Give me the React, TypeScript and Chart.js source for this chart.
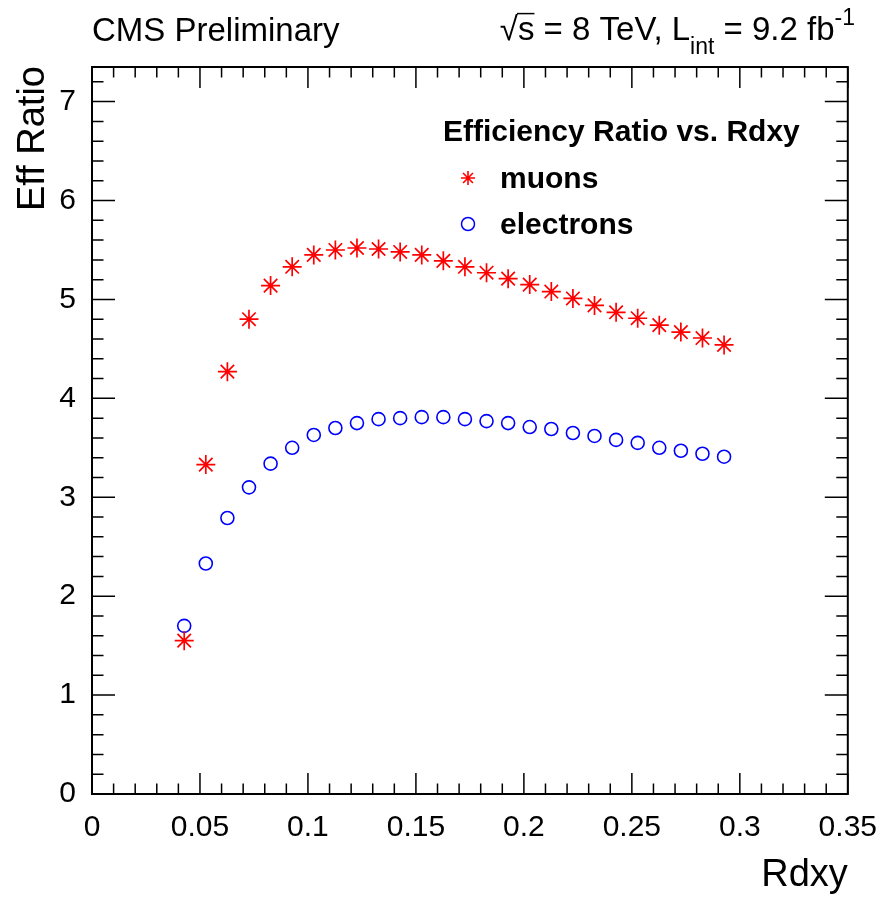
import React, { useEffect, useRef } from 'react';
import { Chart, registerables } from 'chart.js';

Chart.register(...registerables);

// ---- data ----
const rdxy = [
  0.0427, 0.0527, 0.0627, 0.0727, 0.0827, 0.0927, 0.1027, 0.1127, 0.1227,
  0.1327, 0.1427, 0.1527, 0.1627, 0.1727, 0.1827, 0.1927, 0.2027, 0.2127,
  0.2227, 0.2327, 0.2427, 0.2527, 0.2627, 0.2727, 0.2827, 0.2927,
];
const muons = [
  1.55, 3.33, 4.27, 4.80, 5.14, 5.33, 5.45, 5.50, 5.52, 5.51, 5.48, 5.45, 5.39,
  5.33, 5.27, 5.21, 5.15, 5.08, 5.01, 4.94, 4.87, 4.81, 4.74, 4.67, 4.61, 4.54,
];
const electrons = [
  1.70, 2.33, 2.79, 3.10, 3.34, 3.50, 3.63, 3.70, 3.75, 3.79, 3.80, 3.81, 3.81,
  3.79, 3.77, 3.75, 3.71, 3.69, 3.65, 3.62, 3.58, 3.55, 3.50, 3.47, 3.44, 3.41,
];
const xTickValues = [0, 0.05, 0.1, 0.15, 0.2, 0.25, 0.3, 0.35];
const xTickLabels = ['0', '0.05', '0.1', '0.15', '0.2', '0.25', '0.3', '0.35'];
const yTickValues = [0, 1, 2, 3, 4, 5, 6, 7];
const yTickLabels = ['0', '1', '2', '3', '4', '5', '6', '7'];
const xRange = [0, 0.35];
const yRange = [0, 7.35];

const seriesNames = ['muons', 'electrons'];
const legendTitle = 'Efficiency Ratio vs. Rdxy';
const xTitle = 'Rdxy';
const yTitle = 'Eff Ratio';
const leftLabel = 'CMS Preliminary';

const FONT = '"Liberation Sans", Arial, Helvetica, sans-serif';
const RED = '#ff0000';
const BLUE = '#0000ff';

function drawStar(ctx: CanvasRenderingContext2D, x: number, y: number, r: number) {
  ctx.beginPath();
  ctx.moveTo(x - r, y);
  ctx.lineTo(x + r, y);
  ctx.moveTo(x, y - r);
  ctx.lineTo(x, y + r);
  const d = r * Math.SQRT1_2;
  ctx.moveTo(x - d, y - d);
  ctx.lineTo(x + d, y + d);
  ctx.moveTo(x - d, y + d);
  ctx.lineTo(x + d, y - d);
  ctx.stroke();
}

const decorPlugin = {
  id: 'rootDecor',
  afterDraw(chart: any) {
    const ctx: CanvasRenderingContext2D = chart.ctx;
    const { left, right, top, bottom } = chart.chartArea;
    const xs = chart.scales.x;
    const ys = chart.scales.y;
    ctx.save();
    ctx.strokeStyle = '#000';
    // ticks
    ctx.lineWidth = 1.5;
    const xMaj = 21, xMin = 10.5, yMaj = 23, yMin = 11.5;
    ctx.beginPath();
    for (let i = 0; i < xTickValues.length; i++) {
      const v = xTickValues[i];
      const px = xs.getPixelForValue(v);
      ctx.moveTo(px, bottom); ctx.lineTo(px, bottom - xMaj);
      ctx.moveTo(px, top); ctx.lineTo(px, top + xMaj);
      if (i < xTickValues.length - 1) {
        const step = (xTickValues[i + 1] - v) / 5;
        for (let k = 1; k < 5; k++) {
          const mx = xs.getPixelForValue(v + k * step);
          ctx.moveTo(mx, bottom); ctx.lineTo(mx, bottom - xMin);
          ctx.moveTo(mx, top); ctx.lineTo(mx, top + xMin);
        }
      }
    }
    for (let i = 0; i < yTickValues.length; i++) {
      const v = yTickValues[i];
      const py = ys.getPixelForValue(v);
      ctx.moveTo(left, py); ctx.lineTo(left + yMaj, py);
      ctx.moveTo(right, py); ctx.lineTo(right - yMaj, py);
      const step = i < yTickValues.length - 1 ? (yTickValues[i + 1] - v) / 5 : (v - yTickValues[i - 1]) / 5;
      for (let k = 1; k < 5; k++) {
        const mv = v + k * step;
        if (mv > yRange[1]) break;
        const my = ys.getPixelForValue(mv);
        ctx.moveTo(left, my); ctx.lineTo(left + yMin, my);
        ctx.moveTo(right, my); ctx.lineTo(right - yMin, my);
      }
    }
    ctx.stroke();
    // frame
    ctx.lineWidth = 2;
    ctx.strokeRect(left, top, right - left, bottom - top);

    // texts
    ctx.fillStyle = '#000';
    ctx.textBaseline = 'alphabetic';
    ctx.textAlign = 'left';
    ctx.font = `33px ${FONT}`;
    ctx.fillText(leftLabel, left, 41);

    // right header: sqrt(s) = 8 TeV, L_int = 9.2 fb^-1
    const base = 40;
    const pieces = [
      { t: '\u221A', size: 33, dy: 0 },
      { t: 's = 8 TeV, L', size: 33, dy: 0 },
      { t: 'int', size: 23, dy: 14 },
      { t: ' = 9.2 fb', size: 33, dy: 0 },
      { t: '-1', size: 23, dy: -15 },
    ];
    let total = 0;
    const widths: number[] = [];
    for (const p of pieces) {
      ctx.font = `${p.size}px ${FONT}`;
      const w = ctx.measureText(p.t).width;
      widths.push(w);
      total += w;
    }
    let cx = 855 - total;
    pieces.forEach((p, i) => {
      ctx.font = `${p.size}px ${FONT}`;
      ctx.fillText(p.t, cx, base + p.dy);
      if (i === 1) {
        const sw = ctx.measureText('s').width;
        ctx.lineWidth = 1.5;
        ctx.beginPath();
        ctx.moveTo(cx - 1, base - p.size * 0.8);
        ctx.lineTo(cx + sw, base - p.size * 0.8);
        ctx.stroke();
      }
      cx += widths[i];
    });

    // axis titles
    ctx.font = `38px ${FONT}`;
    ctx.textAlign = 'right';
    ctx.fillText(xTitle, right, 886);
    ctx.save();
    ctx.translate(44, top - 1);
    ctx.rotate(-Math.PI / 2);
    ctx.textAlign = 'right';
    ctx.fillText(yTitle, 0, 0);
    ctx.restore();

    // legend
    ctx.textAlign = 'left';
    ctx.font = `bold 30px ${FONT}`;
    ctx.fillText(legendTitle, 443, 141);
    ctx.fillText(seriesNames[0], 500, 188);
    ctx.fillText(seriesNames[1], 500, 234);
    ctx.lineWidth = 1.6;
    ctx.strokeStyle = RED;
    drawStar(ctx, 468, 178, 7);
    ctx.lineWidth = 1.5;
    ctx.strokeStyle = BLUE;
    ctx.beginPath();
    ctx.arc(468, 224, 6.5, 0, Math.PI * 2);
    ctx.stroke();
    ctx.restore();
  },
};

export default function App() {
  const ref = useRef<HTMLCanvasElement | null>(null);
  useEffect(() => {
    if (!ref.current) return;
    const chart = new Chart(ref.current, {
      type: 'scatter',
      data: {
        datasets: [
          {
            label: seriesNames[0],
            data: rdxy.map((x, i) => ({ x, y: muons[i] })),
            pointStyle: 'star',
            pointRadius: 9.5,
            borderColor: RED,
            backgroundColor: RED,
            borderWidth: 1.7,
            showLine: false,
          },
          {
            label: seriesNames[1],
            data: rdxy.map((x, i) => ({ x, y: electrons[i] })),
            pointStyle: 'circle',
            pointRadius: 6.5,
            borderColor: BLUE,
            backgroundColor: 'rgba(0,0,0,0)',
            borderWidth: 1.6,
            showLine: false,
          },
        ],
      },
      options: {
        animation: false,
        responsive: false,
        maintainAspectRatio: false,
        events: [],
        layout: { padding: { left: 0, right: 35, top: 67, bottom: 0 } },
        plugins: { legend: { display: false }, tooltip: { enabled: false } },
        scales: {
          x: {
            type: 'linear',
            min: xRange[0],
            max: xRange[1],
            grid: { display: false },
            border: { display: false },
            afterBuildTicks: (s: any) => {
              s.ticks = xTickValues.map((v) => ({ value: v }));
            },
            afterFit: (s: any) => {
              s.height = 103;
            },
            ticks: {
              autoSkip: false,
              maxRotation: 0,
              minRotation: 0,
              padding: 8,
              color: '#000',
              font: { family: FONT, size: 30 },
              callback: (_v: any, i: number) => xTickLabels[i],
            },
          },
          y: {
            type: 'linear',
            min: yRange[0],
            max: yRange[1],
            grid: { display: false },
            border: { display: false },
            afterBuildTicks: (s: any) => {
              s.ticks = yTickValues.map((v) => ({ value: v }));
            },
            afterFit: (s: any) => {
              s.width = 92;
            },
            ticks: {
              autoSkip: false,
              padding: 8,
              color: '#000',
              font: { family: FONT, size: 30 },
              callback: (_v: any, i: number) => yTickLabels[i],
            },
          },
        },
      },
      plugins: [decorPlugin],
    } as any);
    return () => chart.destroy();
  }, []);
  return (
    <div style={{ position: 'fixed', left: 0, top: 0, width: 885, height: 897, background: '#fff' }}>
      <canvas ref={ref} width={885} height={897} style={{ width: 885, height: 897, display: 'block' }} />
    </div>
  );
}
